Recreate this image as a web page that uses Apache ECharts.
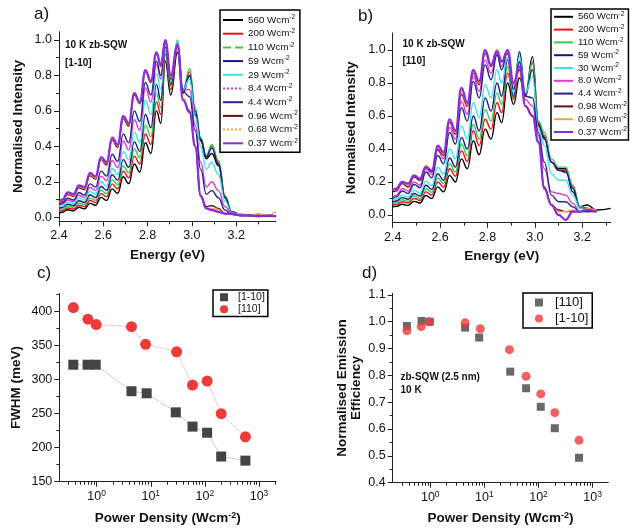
<!DOCTYPE html>
<html><head><meta charset="utf-8">
<script src="https://cdn.jsdelivr.net/npm/echarts@6/dist/echarts.min.js"></script>
<style>html,body{margin:0;padding:0;background:#fff}#c{width:630px;height:531px}</style>
</head><body><div id="c"></div>
<script>
const FONT = "'Liberation Sans', Arial, Helvetica, sans-serif";

// ---------- Panel a: spectra, [1-10] ----------
const energyA = [2.40,2.415,2.44,2.465,2.49,2.515,2.54,2.565,2.59,2.615,2.64,2.665,2.69,2.715,2.74,2.765,2.79,2.815,2.84,2.86,2.88,2.905,2.935,2.96,2.99,3.015,3.04,3.065,3.09,3.12,3.15,3.18,3.22,3.26,3.30,3.34,3.38];
const labelsA = ['560','200','110','59','29','8.4','4.4','0.96','0.68','0.37'];
const a560 = [.025,.028,.042,.036,.056,.048,.078,.068,.112,.095,.160,.135,.228,.190,.300,.255,.420,.360,.600,.530,.880,.690,.930,.700,.800,.580,.430,.330,.360,.290,.110,.030,.015,.010,.010,.005,.005];
const a200 = [.033,.037,.052,.046,.068,.060,.094,.083,.133,.115,.188,.160,.260,.222,.345,.300,.470,.410,.650,.580,.920,.720,.960,.710,.820,.600,.440,.340,.400,.310,.120,.030,.015,.010,.010,.005,.005];
const a110 = [.042,.046,.062,.056,.080,.071,.108,.096,.152,.133,.212,.183,.290,.250,.385,.335,.520,.455,.700,.620,.940,.740,1.000,.720,.840,.620,.450,.350,.410,.320,.120,.030,.015,.010,.010,.005,.005];
const a59  = [.050,.055,.073,.066,.093,.083,.125,.111,.173,.152,.240,.208,.325,.282,.425,.372,.580,.505,.750,.660,.960,.750,.980,.720,.800,.600,.440,.340,.390,.300,.110,.030,.015,.010,.010,.005,.005];
const a29  = [.058,.064,.085,.077,.108,.097,.145,.130,.200,.177,.275,.240,.370,.323,.480,.420,.660,.580,.810,.720,.980,.770,.990,.720,.780,.570,.400,.270,.310,.240,.090,.025,.015,.010,.010,.005,.005];
const a8_4 = [.066,.073,.097,.088,.124,.112,.168,.150,.232,.206,.320,.280,.430,.380,.550,.490,.730,.650,.860,.780,.990,.780,.980,.720,.720,.520,.310,.170,.200,.150,.060,.020,.010,.010,.010,.005,.005];
const a4_4 = [.072,.080,.107,.097,.138,.125,.188,.170,.260,.232,.355,.315,.470,.420,.600,.540,.760,.690,.880,.800,1.000,.780,.970,.710,.680,.490,.270,.130,.150,.110,.040,.015,.010,.010,.010,.005,.005];
const a0_96 = [.080,.090,.128,.118,.166,.156,.235,.215,.325,.295,.435,.395,.555,.515,.690,.640,.820,.760,.920,.850,.990,.790,.960,.670,.600,.400,.120,.060,.065,.050,.020,.020,.010,.010,.010,.005,.005];
const a0_68 = [.085,.095,.133,.124,.173,.163,.242,.222,.333,.303,.443,.403,.563,.523,.695,.645,.825,.765,.925,.855,.995,.790,.960,.670,.590,.400,.110,.050,.050,.040,.020,.020,.020,.010,.020,.010,.030];
const a0_37 = [.090,.100,.140,.130,.180,.170,.250,.230,.340,.310,.450,.410,.570,.530,.700,.650,.830,.770,.930,.860,1.000,.800,.970,.660,.590,.400,.120,.050,.040,.030,.020,.020,.010,.010,.005,.010,.005];
const spectraA = [a560,a200,a110,a59,a29,a8_4,a4_4,a0_96,a0_68,a0_37];

// ---------- Panel b: spectra, [110] ----------
const energyB = [2.40,2.415,2.44,2.465,2.49,2.515,2.54,2.565,2.59,2.615,2.64,2.665,2.69,2.715,2.74,2.765,2.79,2.815,2.84,2.86,2.885,2.91,2.935,2.96,2.99,3.015,3.04,3.07,3.10,3.13,3.16,3.19,3.22,3.26,3.32];
const labelsB = ['560','200','110','59','30','8.0','4.4','0.98','0.69','0.37'];
const b560 = [.050,.052,.065,.058,.082,.072,.118,.100,.170,.140,.240,.200,.340,.280,.450,.365,.520,.460,.620,.560,.800,.670,.830,.720,.960,.550,.470,.320,.280,.280,.140,.050,.060,.030,.040];
const b200 = [.060,.063,.080,.072,.100,.088,.140,.120,.200,.168,.280,.235,.390,.325,.510,.420,.580,.520,.680,.620,.860,.700,.900,.720,.920,.560,.480,.320,.270,.270,.170,.050,.040,.030,null];
const b110 = [.070,.074,.092,.083,.115,.100,.160,.137,.225,.190,.310,.260,.430,.360,.550,.460,.640,.570,.740,.670,.900,.710,.980,.730,.930,.570,.500,.340,.290,.290,.180,.050,.040,.030,null];
const b59  = [.080,.085,.105,.095,.130,.115,.180,.155,.250,.210,.345,.290,.470,.400,.600,.510,.710,.630,.800,.720,.940,.720,.990,.730,.880,.540,.460,.320,.270,.260,.160,.040,.040,.030,null];
const b30  = [.090,.095,.120,.108,.150,.133,.205,.178,.290,.245,.400,.340,.540,.460,.680,.590,.790,.710,.880,.800,.970,.740,.960,.740,.840,.520,.420,.250,.210,.210,.120,.040,.030,.030,null];
const b8_0 = [.110,.120,.160,.145,.200,.180,.280,.245,.390,.340,.530,.460,.690,.610,.840,.750,.940,.860,.980,.900,1.000,.770,.920,.700,.660,.480,.280,.140,.130,.120,.070,.020,.020,.020,null];
const b4_4 = [.100,.110,.145,.130,.185,.165,.260,.225,.360,.310,.500,.430,.650,.570,.810,.710,.910,.820,.970,.880,1.000,.760,.930,.720,.710,.500,.320,.120,.080,.080,.050,.020,.020,.020,null];
const b0_98 = [.140,.145,.190,.170,.230,.210,.290,.260,.400,.360,.560,.490,.730,.660,.860,.790,.980,.900,1.000,.930,.980,.790,.880,.660,.600,.440,.170,.060,.030,.020,.020,.020,.030,.030,null];
const b0_69 = [.150,.155,.200,.180,.240,.220,.300,.270,.410,.370,.570,.500,.750,.670,.870,.800,.990,.910,1.000,.930,.990,.790,.870,.660,.600,.450,.160,.060,.020,.020,.030,.020,.040,.030,null];
const b0_37 = [.150,.160,.200,.190,.240,.220,.290,.270,.420,.380,.580,.510,.770,.680,.880,.810,1.000,.910,.990,.930,1.000,.800,.900,.660,.600,.440,.160,.060,.000,-.030,.020,.020,.030,.020,null];
const spectraB = [b560,b200,b110,b59,b30,b8_0,b4_4,b0_98,b0_69,b0_37];

// ---------- Panels c, d ----------
const power1_10 = [0.37,0.68,0.96,4.4,8.4,29,59,110,200,560];
const power110  = [0.37,0.69,0.98,4.4,8.0,30,59,110,200,560];
const fwhm1_10 = [322,322,322,283,280,252,231,222,187,181];
const fwhm110  = [406,389,381,378,352,341,292,298,250,216];
const eff110  = [0.984,1.003,1.000,0.978,0.941,0.814,0.752,0.683,0.603,0.493];
const eff1_10 = [0.966,0.982,1.000,0.996,0.974,0.896,0.797,0.731,0.661,0.558];

// tick values
const specYTicks = [0,0.2,0.4,0.6,0.8,1.0];
const specYMinor = [0.1,0.3,0.5,0.7,0.9];
const specXTicks = [2.4,2.6,2.8,3.0,3.2];
const specXMinor = [2.5,2.7,2.9,3.1,3.3];
const logTicks = [1,10,100,1000];
const logMinor = [0.3,0.4,0.5,0.6,0.7,0.8,0.9,2,3,4,5,6,7,8,9,20,30,40,50,60,70,80,90,200,300,400,500,600,700,800,900,2000];
const fwhmTicks = [150,200,250,300,350,400];
const fwhmMinor = [175,225,275,325,375,425];
const effTicks = [0.4,0.5,0.6,0.7,0.8,0.9,1.0,1.1];
const effMinor = [0.45,0.55,0.65,0.75,0.85,0.95,1.05];

const COLORS = ['#000000','#e8141c','#33cc4d','#16168c','#3ee4ea','#e03ad6','#26268a','#6e0f0f','#f5a040','#8a2be2'];
const AXC = '#222';
const TXT = '#111';

function axisPair(dim, gi, type, min, max, majors, minors, fmt, name, nameGap, nameExtra) {
  const pos = dim === 'x' ? 'bottom' : 'left';
  const main = {
    type, gridIndex: gi, min, max, position: pos,
    axisLine: {show: true, onZero: false, lineStyle: {color: AXC, width: 1}},
    axisTick: {show: true, inside: false, length: 5, customValues: majors, lineStyle: {color: AXC, width: 1}},
    axisLabel: {show: true, customValues: majors, formatter: fmt, fontSize: 12.5, fontFamily: FONT, color: TXT,
      margin: 7, lineHeight: 15,
      rich: {sup: {fontSize: 8.5, fontFamily: FONT, color: TXT, verticalAlign: 'top'}}},
    splitLine: {show: false},
    name, nameLocation: 'middle', nameGap,
    nameTextStyle: Object.assign({fontSize: 13.5, fontWeight: 'bold', fontFamily: FONT, color: TXT, lineHeight: 16,
      rich: {sup: {fontSize: 9, fontWeight: 'bold', fontFamily: FONT, color: TXT, verticalAlign: 'top'}}}, nameExtra || {})
  };
  if (type === 'log') main.logBase = 10;
  const minor = {
    type, gridIndex: gi, min, max, position: pos,
    axisLine: {show: false, onZero: false},
    axisTick: {show: true, inside: false, length: 3, customValues: minors, lineStyle: {color: AXC, width: 1}},
    axisLabel: {show: false},
    splitLine: {show: false}
  };
  if (type === 'log') minor.logBase = 10;
  return [main, minor];
}

const f1 = v => v.toFixed(1);
const fInt = v => String(Math.round(v));
const fPow = v => '10{sup|' + Math.round(Math.log10(v)) + '}';

const xAxes = [
  ...axisPair('x', 0, 'value', 2.4, 3.38, specXTicks, specXMinor, f1, 'Energy (eV)', 26),
  ...axisPair('x', 1, 'value', 2.4, 3.32, specXTicks, specXMinor, f1, 'Energy (eV)', 26),
  ...axisPair('x', 2, 'log', 0.204, 2060, logTicks, logMinor, fPow, 'Power Density (Wcm{sup|-2})', 29),
  ...axisPair('x', 3, 'log', 0.202, 1950, logTicks, logMinor, fPow, 'Power Density (Wcm{sup|-2})', 28)
];
const yAxes = [
  ...axisPair('y', 0, 'value', -0.023, 1.047, specYTicks, specYMinor, f1, 'Normalised Intensity', 33),
  ...axisPair('y', 1, 'value', -0.047, 1.103, specYTicks, specYMinor, f1, 'Normalised Intensity', 33),
  ...axisPair('y', 2, 'value', 150, 427, fwhmTicks, fwhmMinor, fInt, 'FWHM (meV)', 35),
  ...axisPair('y', 3, 'value', 0.4, 1.106, effTicks, effMinor, f1, 'Normalised Emission\nEfficiency', 29, {lineHeight: 14})
];

const series = [];
function spectrum(prefix, labels, energies, arrs, axisIdx) {
  arrs.forEach((arr, i) => {
    series.push({
      type: 'line', name: prefix + labels[i], xAxisIndex: axisIdx, yAxisIndex: axisIdx,
      data: energies.map((e, k) => [e, arr[k]]).filter(p => p[1] !== null),
      symbol: 'none', showSymbol: false, smooth: 0.45, smoothMonotone: 'x',
      lineStyle: {color: COLORS[i], width: i === 9 ? 2.2 : 1.4},
      itemStyle: {color: COLORS[i]}, z: 2 + i * 0.01
    });
  });
}
spectrum('a:', labelsA, energyA, spectraA, 0);
spectrum('b:', labelsB, energyB, spectraB, 2);

series.push({
  type: 'line', name: 'c:[1-10]', xAxisIndex: 4, yAxisIndex: 4,
  data: power1_10.map((p, k) => [p, fwhm1_10[k]]),
  symbol: 'rect', symbolSize: 10, showSymbol: true,
  lineStyle: {color: '#9a9a9a', width: 1, type: 'dotted'}, itemStyle: {color: '#444444'}
});
series.push({
  type: 'line', name: 'c:[110]', xAxisIndex: 4, yAxisIndex: 4,
  data: power110.map((p, k) => [p, fwhm110[k]]),
  symbol: 'circle', symbolSize: 11, showSymbol: true,
  lineStyle: {color: '#e59a9a', width: 1, type: 'dotted'}, itemStyle: {color: '#f03a3a'}
});
series.push({
  type: 'scatter', name: 'd:[110]', xAxisIndex: 6, yAxisIndex: 6,
  data: power110.map((p, k) => [p, eff110[k]]),
  symbol: 'rect', symbolSize: 8, itemStyle: {color: '#444444'}
});
series.push({
  type: 'scatter', name: 'd:[1-10]', xAxisIndex: 6, yAxisIndex: 6,
  data: power1_10.map((p, k) => [p, eff1_10[k]]),
  symbol: 'circle', symbolSize: 9, itemStyle: {color: '#f03a3a'}
});

function specLegendText(fs) {
  return {fontSize: fs, fontFamily: FONT, color: TXT, lineHeight: 12,
    rich: {sup: {fontSize: 6.5, fontFamily: FONT, color: TXT, verticalAlign: 'top'}}};
}
const dashA = {'8.4': 'dotted', '0.68': 'dotted', '110': 'dashed'};

const legends = [
  {
    orient: 'vertical', left: 220, top: 10, padding: [4, 2, 3, 2], itemGap: 1.7,
    itemWidth: 20, itemHeight: 12, borderColor: '#000', borderWidth: 1.5, backgroundColor: '#fff',
    selectedMode: false, textStyle: specLegendText(9.8), itemStyle: {opacity: 0},
    formatter: n => n.slice(2) + ' Wcm{sup|-2}',
    data: labelsA.map(l => dashA[l] ? {name: 'a:' + l, lineStyle: {type: dashA[l]}} : {name: 'a:' + l})
  },
  {
    orient: 'vertical', left: 551, top: 9, padding: [1.8, 1.5, 2, 2], itemGap: 0.8,
    itemWidth: 19, itemHeight: 12, borderColor: '#000', borderWidth: 1.5, backgroundColor: '#fff',
    selectedMode: false, textStyle: specLegendText(9.6), itemStyle: {opacity: 0},
    formatter: n => n.slice(2) + ' Wcm{sup|-2}',
    data: labelsB.map(l => ({name: 'b:' + l}))
  },
  {
    orient: 'vertical', left: 213, top: 290, padding: [1.5, 3, 1.5, 7], itemGap: 0.5,
    itemWidth: 8, itemHeight: 8, borderColor: '#000', borderWidth: 1.5, backgroundColor: '#fff',
    selectedMode: false,
    textStyle: {fontSize: 10.5, fontFamily: FONT, color: TXT, lineHeight: 11.5, rich: {sp: {width: 5}}},
    formatter: n => '{sp|}' + n.slice(2),
    data: [{name: 'c:[1-10]', icon: 'rect'}, {name: 'c:[110]', icon: 'circle'}]
  },
  {
    orient: 'vertical', left: 523, top: 293, padding: [2.5, 4, 2.5, 12], itemGap: 2,
    itemWidth: 8, itemHeight: 8, borderColor: '#000', borderWidth: 1.5, backgroundColor: '#fff',
    selectedMode: false,
    textStyle: {fontSize: 13, fontFamily: FONT, color: TXT, lineHeight: 14, rich: {sp: {width: 7}}},
    formatter: n => '{sp|}' + n.slice(2),
    data: [{name: 'd:[110]', icon: 'rect'}, {name: 'd:[1-10]', icon: 'circle'}]
  }
];

function txt(x, y, text, size, weight) {
  return {type: 'text', x, y, silent: true, z: 10, style: {
    text, fontSize: size, fontWeight: weight || 'normal', fontFamily: FONT, fill: TXT,
    textAlign: 'left', align: 'left', textVerticalAlign: 'middle', verticalAlign: 'middle'}};
}

const option = {
  animation: false,
  backgroundColor: '#fff',
  grid: [
    {left: 59, top: 31.7, width: 217, height: 189.6, containLabel: false},
    {left: 392.7, top: 33, width: 218, height: 189.7, containLabel: false},
    {left: 59.3, top: 293.3, width: 216.7, height: 188.4, containLabel: false},
    {left: 392.7, top: 293.3, width: 215.6, height: 189.4, containLabel: false}
  ],
  xAxis: xAxes,
  yAxis: yAxes,
  legend: legends,
  series,
  graphic: [
    txt(34, 14, 'a)', 17), txt(358, 16, 'b)', 17), txt(37, 273, 'c)', 17), txt(362, 273, 'd)', 17),
    txt(65, 45, '10 K zb-SQW', 10, 'bold'), txt(65, 63, '[1-10]', 10, 'bold'),
    txt(402.5, 44.5, '10 K zb-SQW', 10, 'bold'), txt(402.5, 61.5, '[110]', 10, 'bold'),
    txt(400.5, 377.5, 'zb-SQW (2.5 nm)', 10, 'bold'), txt(400.5, 390.5, '10 K', 10, 'bold')
  ]
};

const chart = echarts.init(document.getElementById('c'), null, {renderer: 'canvas'});
chart.setOption(option);
</script>
</body></html>
